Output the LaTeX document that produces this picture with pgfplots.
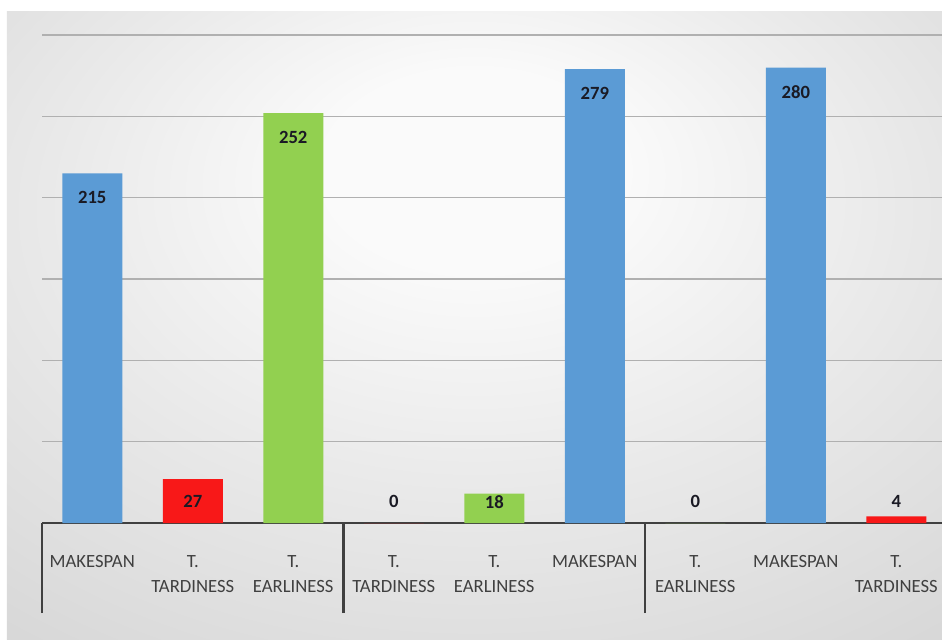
\documentclass[border=0pt]{standalone}
\usepackage{pgfplots}
\pgfplotsset{compat=1.18}
\usetikzlibrary{calc}
\usepackage{fontspec}
\setmainfont{Carlito}
\definecolor{barblue}{HTML}{5B9BD5}
\definecolor{barred}{HTML}{F81818}
\definecolor{bargreen}{HTML}{92D050}
\definecolor{axisdark}{HTML}{404040}
\definecolor{gridgray}{HTML}{B0B0B0}
\definecolor{labgray}{HTML}{404040}
\definecolor{valdark}{HTML}{1A1A24}
\definecolor{bgcA}{HTML}{FAFAFA}
\definecolor{bgcB}{HTML}{EAEAEA}
\definecolor{bgcC}{HTML}{CFCFCF}
\definecolor{bgcD}{HTML}{C4C4C4}
\pgfdeclareradialshading{bgshade}{\pgfpoint{0bp}{14bp}}{color(0bp)=(bgcA); color(8bp)=(bgcA); color(22bp)=(bgcB); color(48bp)=(bgcC); color(70bp)=(bgcD)}
\pgfdeclarelayer{bglayer}
\pgfsetlayers{bglayer,main}
\begin{document}
\begin{tikzpicture}[x=0.75pt,y=0.75pt]
\begin{axis}[
  scale only axis, width=675pt, height=366pt,
  xmin=-0.5, xmax=8.455, ymin=0, ymax=300,
  clip=false,
  axis x line=bottom, axis y line=left,
  x axis line style={-, line width=2pt, color=axisdark},
  y axis line style={draw=none},
  ytick={50,100,...,300}, yticklabels={}, ytick style={draw=none},
  ymajorgrids, grid style={line width=0.9pt, color=gridgray},
  major tick length=0pt,
  xtick={0,...,8},
  xticklabels={MAKESPAN,{T.\\TARDINESS},{T.\\EARLINESS},{T.\\TARDINESS},{T.\\EARLINESS},MAKESPAN,{T.\\EARLINESS},MAKESPAN,{T.\\TARDINESS}},
  xticklabel style={align=center, anchor=north, text=labgray, font=\fontsize{14}{18.75}\selectfont, yshift=-21pt},
  extra x ticks={-0.5,2.5,5.5},
  extra x tick labels={},
  extra x tick style={grid=none, major tick length=67.5pt, tick align=outside, tick style={draw=axisdark, line width=2pt}},
]
\coordinate (O) at (axis cs:-0.5,0);
\addplot[ybar, bar width=45pt, bar shift=0pt, fill=barblue, draw=none] coordinates {(0,215) (5,279) (7,280)};
\addplot[ybar, bar width=45pt, bar shift=0pt, fill=barred, draw=none] coordinates {(1,27) (3,0) (8,4)};
\addplot[ybar, bar width=45pt, bar shift=0pt, fill=bargreen, draw=none] coordinates {(2,252) (4,18) (6,0)};
\addplot[draw=none, mark=none, nodes near coords, point meta=explicit symbolic,
  nodes near coords align={center},
  every node near coord/.append style={anchor=center, font=\bfseries\fontsize{14}{16}\selectfont, text=valdark}]
  table[meta=lab] {
x y lab
0 200 215
1 13 27
2 237 252
3 13 0
4 13 18
5 264 279
6 13 0
7 265 280
8 13 4
};
\end{axis}
\begin{pgfonlayer}{bglayer}
\fill[white] ($(O)+(-42,-116)$) rectangle ($(O)+(900,523)$);
\shade[shading=bgshade] ($(O)+(-35,-116)$) rectangle ($(O)+(900,511)$);
\end{pgfonlayer}
\pgfresetboundingbox
\useasboundingbox ($(O)+(-42,-116)$) rectangle ($(O)+(900,523)$);
\end{tikzpicture}
\end{document}
